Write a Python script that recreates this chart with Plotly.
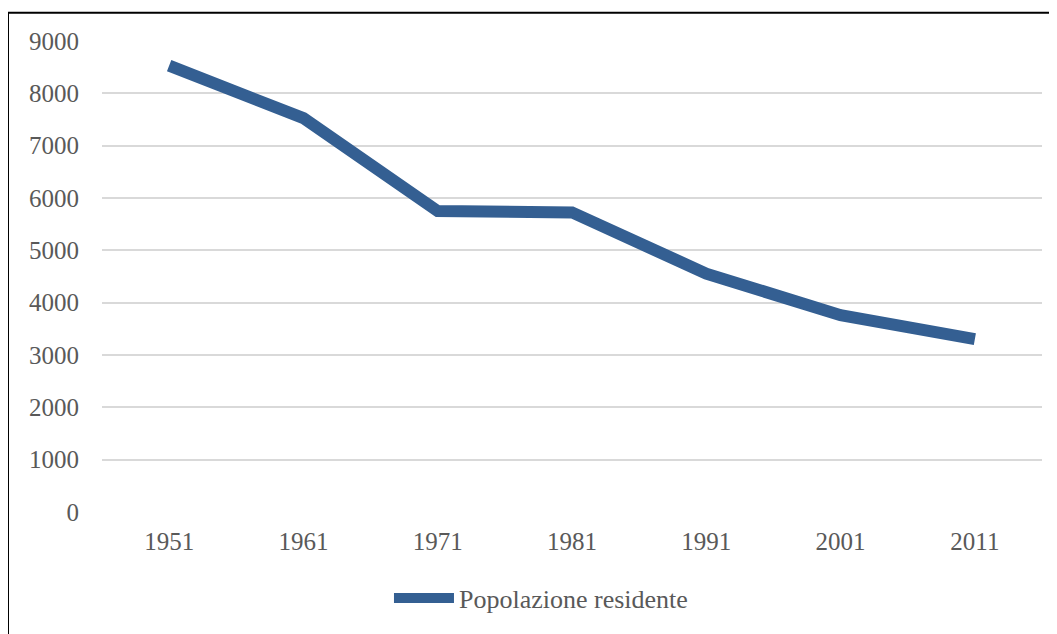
import plotly.graph_objects as go

years = ["1951", "1961", "1971", "1981", "1991", "2001", "2011"]
population = [8530, 7525, 5750, 5725, 4555, 3760, 3305]
y_ticks = [0, 1000, 2000, 3000, 4000, 5000, 6000, 7000, 8000, 9000]
series_name = "Popolazione residente"

fig = go.Figure()
fig.add_trace(go.Scatter(
    x=years, y=population, mode="lines", name=series_name,
    line=dict(color="#345F92", width=12),
))

font_family = "Liberation Serif, Times New Roman, serif"
fig.update_layout(
    width=1049, height=626,
    margin=dict(l=94, r=15, t=33, b=117),
    paper_bgcolor="white", plot_bgcolor="white",
    font=dict(family=font_family, size=25, color="#595959"),
    showlegend=True,
    legend=dict(orientation="h", x=0.467, xanchor="center", y=-0.183, yanchor="middle",
                font=dict(family=font_family, size=26, color="#595959"),
                itemwidth=60),
    xaxis=dict(type="category", range=[-0.5, 6.5], showgrid=False, showline=False,
               zeroline=False, ticks="", ticklabelstandoff=12, tickfont=dict(size=25)),
    yaxis=dict(range=[0, 9000], tickvals=y_ticks, showgrid=True, gridcolor="#D9D9D9",
               gridwidth=1.5, zeroline=False, showline=False, ticks="",
               ticklabelstandoff=22, tickfont=dict(size=25)),
    shapes=[dict(type="rect", xref="paper", yref="paper",
                 x0=-0.1, x1=1.2, y0=-0.4, y1=1.0599,
                 line=dict(color="black", width=2), layer="below")],
)

fig.write_html("out.html")
